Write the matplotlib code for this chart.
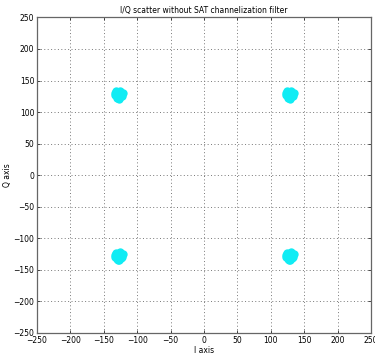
import matplotlib.pyplot as plt

# cluster centres (QPSK-like constellation)
centre_i = [-128, 128, -128, 128]
centre_q = [128, 128, -128, -128]

# spread of the samples around each centre
spread_i = [0, -5, 4, 6, -3, 2, -6, 3, -1, 5, -4, 0]
spread_q = [0, 2, -3, 3, -5, 6, -1, 1, -6, -2, 5, -7]

ticks = [-250, -200, -150, -100, -50, 0, 50, 100, 150, 200, 250]

i_axis = []
q_axis = []
for ci, cq in zip(centre_i, centre_q):
    for di, dq in zip(spread_i, spread_q):
        i_axis.append(ci + di)
        q_axis.append(cq + dq)

fig = plt.figure(figsize=(3.75, 3.55), dpi=100)
ax = fig.add_axes([0.0987, 0.062, 0.891, 0.889])

ax.plot(i_axis, q_axis, linestyle='none', marker='o', markersize=6,
        color='#10ecf4', markeredgewidth=0)

ax.set_xlim(-250, 250)
ax.set_ylim(-250, 250)
ax.set_xticks(ticks)
ax.set_yticks(ticks)
ax.grid(True, linestyle=(0, (1, 2.5)), color='#777777', linewidth=0.7)
ax.tick_params(labelsize=5.5, length=2, width=0.5, direction='in', pad=2,
               top=True, right=True)
for s in ax.spines.values():
    s.set_linewidth(0.9)
    s.set_color('#666666')

ax.set_title('I/Q scatter without SAT channelization filter', fontsize=5.5, pad=3)
ax.set_xlabel('I axis', fontsize=5.5, labelpad=1)
ax.set_ylabel('Q axis', fontsize=5.5, labelpad=1)

fig.savefig('out.png', dpi=100)
